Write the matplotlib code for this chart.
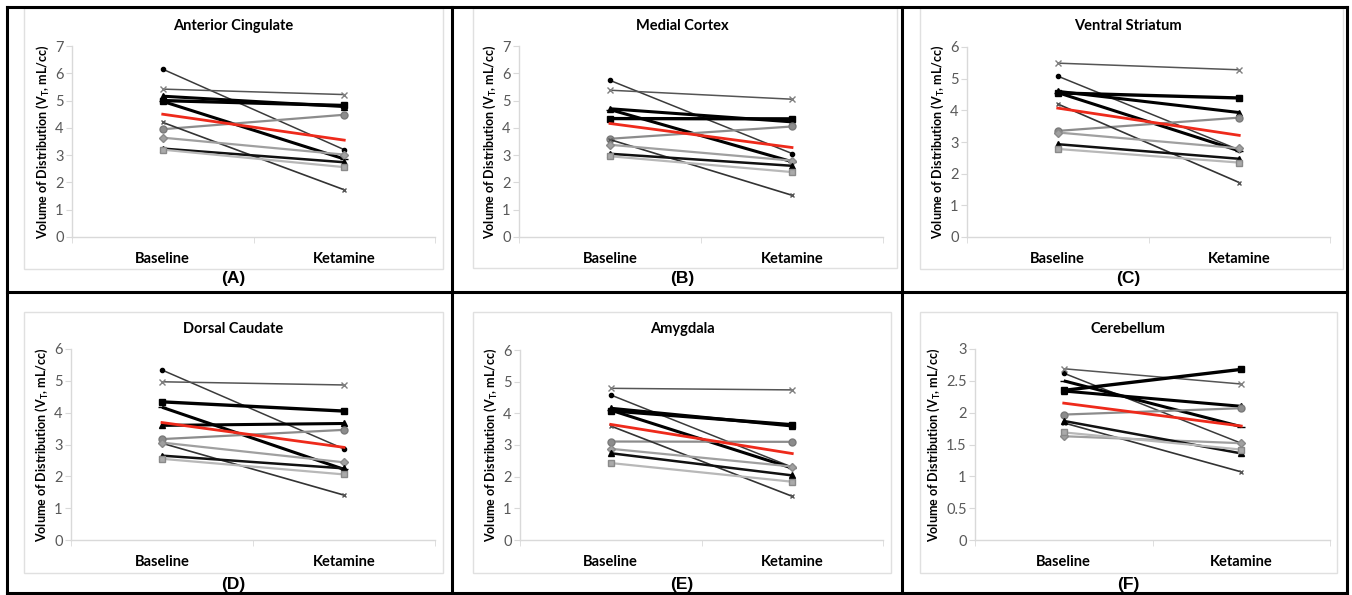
import matplotlib
matplotlib.use('Agg')
import matplotlib.pyplot as plt
from matplotlib.patches import Rectangle
from matplotlib.lines import Line2D

# ------------------------------------------------------------------
# Data, 10 subjects + group mean
# ------------------------------------------------------------------
regions = ['Anterior Cingulate', 'Medial Cortex', 'Ventral Striatum',
           'Dorsal Caudate', 'Amygdala', 'Cerebellum']
letters = ['(A)', '(B)', '(C)', '(D)', '(E)', '(F)']
conditions = ['Baseline', 'Ketamine']
y_max = [7, 7, 6, 6, 6, 3]
y_step = [1, 1, 1, 1, 1, 0.5]

baseline_A = [6.15, 5.42, 5.00, 5.16, 4.97, 3.95, 4.20, 3.64, 3.24, 3.20]
ketamine_A = [3.20, 5.22, 4.82, 4.78, 2.86, 4.48, 1.73, 3.02, 2.74, 2.56]
mean_A = [4.50, 3.55]

baseline_B = [5.74, 5.38, 4.34, 4.70, 4.67, 3.60, 3.57, 3.38, 3.05, 2.96]
ketamine_B = [3.06, 5.05, 4.33, 4.22, 2.76, 4.05, 1.53, 2.80, 2.61, 2.38]
mean_B = [4.16, 3.28]

baseline_C = [5.08, 5.49, 4.55, 4.60, 4.56, 3.35, 4.20, 3.30, 2.93, 2.78]
ketamine_C = [2.75, 5.28, 4.39, 3.93, 2.72, 3.77, 1.72, 2.80, 2.47, 2.35]
mean_C = [4.07, 3.21]

baseline_D = [5.34, 4.97, 4.34, 3.60, 4.17, 3.17, 3.04, 3.06, 2.65, 2.55]
ketamine_D = [2.86, 4.87, 4.05, 3.66, 2.22, 3.46, 1.41, 2.44, 2.25, 2.06]
mean_D = [3.69, 2.91]

baseline_E = [4.58, 4.79, 4.08, 4.16, 4.10, 3.11, 3.60, 2.88, 2.74, 2.43]
ketamine_E = [2.30, 4.74, 3.64, 3.60, 2.27, 3.10, 1.38, 2.32, 2.04, 1.84]
mean_E = [3.65, 2.73]

baseline_F = [2.62, 2.69, 2.35, 2.34, 2.50, 1.97, 1.84, 1.63, 1.87, 1.69]
ketamine_F = [1.52, 2.45, 2.68, 2.10, 1.78, 2.07, 1.07, 1.52, 1.36, 1.42]
mean_F = [2.15, 1.79]

baselines = [baseline_A, baseline_B, baseline_C, baseline_D, baseline_E, baseline_F]
ketamines = [ketamine_A, ketamine_B, ketamine_C, ketamine_D, ketamine_E, ketamine_F]
means = [mean_A, mean_B, mean_C, mean_D, mean_E, mean_F]

# subject line styles (Excel-like)
styles = [
    dict(color='#3a3a3a', lw=1.1, marker='o', ms=3, mfc='black', mec='black'),
    dict(color='#555555', lw=1.1, marker='x', ms=5, mec='#808080'),
    dict(color='black', lw=2.4, marker='s', ms=5, mfc='black', mec='black'),
    dict(color='black', lw=2.2, marker='^', ms=5, mfc='black', mec='black'),
    dict(color='black', lw=2.2, marker='_', ms=6, mec='black'),
    dict(color='#8c8c8c', lw=1.6, marker='o', ms=5, mfc='#8c8c8c', mec='#7a7a7a'),
    dict(color='#333333', lw=1.2, marker='x', ms=3, mec='#555555'),
    dict(color='#a0a0a0', lw=1.6, marker='D', ms=4, mfc='#a0a0a0', mec='#8a8a8a'),
    dict(color='#111111', lw=1.8, marker='^', ms=4, mfc='black', mec='black'),
    dict(color='#b8b8b8', lw=1.6, marker='s', ms=5, mfc='#aaaaaa', mec='#8a8a8a'),
]

# ------------------------------------------------------------------
# Layout in pixels
# ------------------------------------------------------------------
W, H = 1352, 595
ax_boxes = [(72, 46, 435, 237), (519, 46, 883, 237), (967, 47, 1330, 237),
            (71, 349, 435, 540), (520, 350, 883, 540), (975, 349, 1330, 540)]
frames = [(24, 8, 443, 269), (473, 8, 897, 268), (920, 8, 1343, 269),
          (24, 312, 443, 573), (473, 312, 891, 573), (920, 312, 1337, 573)]
title_xy = [(233, 26), (682, 26), (1128, 26), (233, 329), (682, 329), (1128, 329)]
letter_xy = [(233, 279), (682, 279), (1128, 279), (233, 585), (682, 585), (1128, 585)]

chart_font = ['Lato', 'DejaVu Sans']
axis_grey = '#d9d9d9'

fig = plt.figure(figsize=(W / 100, H / 100), dpi=100)
fig.patch.set_facecolor('white')


def fx(px):
    return px / W


def fy(py):
    return 1 - py / H


for i in range(6):
    # light gray chart-area frame
    l, t, r, b = frames[i]
    fig.patches.append(Rectangle((fx(l), fy(b)), fx(r) - fx(l), fy(t) - fy(b),
                                 transform=fig.transFigure, fill=False,
                                 edgecolor='#e0e0e0', lw=1.0))

    l, t, r, b = ax_boxes[i]
    ax = fig.add_axes([fx(l), fy(b), fx(r) - fx(l), fy(t) - fy(b)])
    x = [0, 1]
    for j, st in enumerate(styles):
        ax.plot(x, [baselines[i][j], ketamines[i][j]], solid_capstyle='butt',
                clip_on=False, **st)
    ax.plot(x, means[i], color='#ee2a1b', lw=2.0, clip_on=False)

    ax.set_xlim(-0.5, 1.5)
    ax.set_ylim(0, y_max[i])
    n_ticks = int(round(y_max[i] / y_step[i])) + 1
    yt = [k * y_step[i] for k in range(n_ticks)]
    ax.set_yticks(yt)
    ax.set_yticklabels(['%g' % v for v in yt], fontsize=10.5, color='#595959',
                       family=chart_font)
    ax.set_xticks(x)
    ax.set_xticklabels(conditions, fontsize=10.5, fontweight='bold',
                       family=chart_font)
    ax.set_xticks([-0.5, 0.5, 1.5], minor=True)
    ax.tick_params(axis='x', which='major', length=0, pad=11)
    ax.tick_params(axis='x', which='minor', length=4, color=axis_grey,
                   direction='out')
    ax.tick_params(axis='y', length=4, color=axis_grey, direction='out', pad=2)
    for side in ['top', 'right']:
        ax.spines[side].set_visible(False)
    for side in ['left', 'bottom']:
        ax.spines[side].set_color(axis_grey)
        ax.spines[side].set_linewidth(1.0)
    ax.set_ylabel('Volume of Distribution (V$_\\mathregular{T}$, mL/cc)',
                  fontsize=9, fontweight='bold', family=chart_font, labelpad=3)
    ax.patch.set_alpha(0)

    tx, ty = title_xy[i]
    fig.text(fx(tx), fy(ty), regions[i], ha='center', va='center',
             fontsize=10.5, fontweight='bold', family=chart_font)
    lx, ly = letter_xy[i]
    fig.text(fx(lx), fy(ly), letters[i], ha='center', va='center',
             fontsize=12.5, fontweight='bold', family=['Liberation Sans', 'DejaVu Sans'])

# black panel borders
border_lines = [
    ((7, 7), (1347, 7)), ((7, 593), (1347, 593)),
    ((7, 7), (7, 593)), ((1347, 7), (1347, 593)),
    ((452, 7), (452, 593)), ((902, 7), (902, 593)),
    ((7, 292), (1347, 292)),
]
for (x0, y0), (x1, y1) in border_lines:
    fig.lines.append(Line2D([fx(x0), fx(x1)], [fy(y0), fy(y1)],
                            transform=fig.transFigure, color='black', lw=2.2))

fig.savefig('out.png', dpi=100)
